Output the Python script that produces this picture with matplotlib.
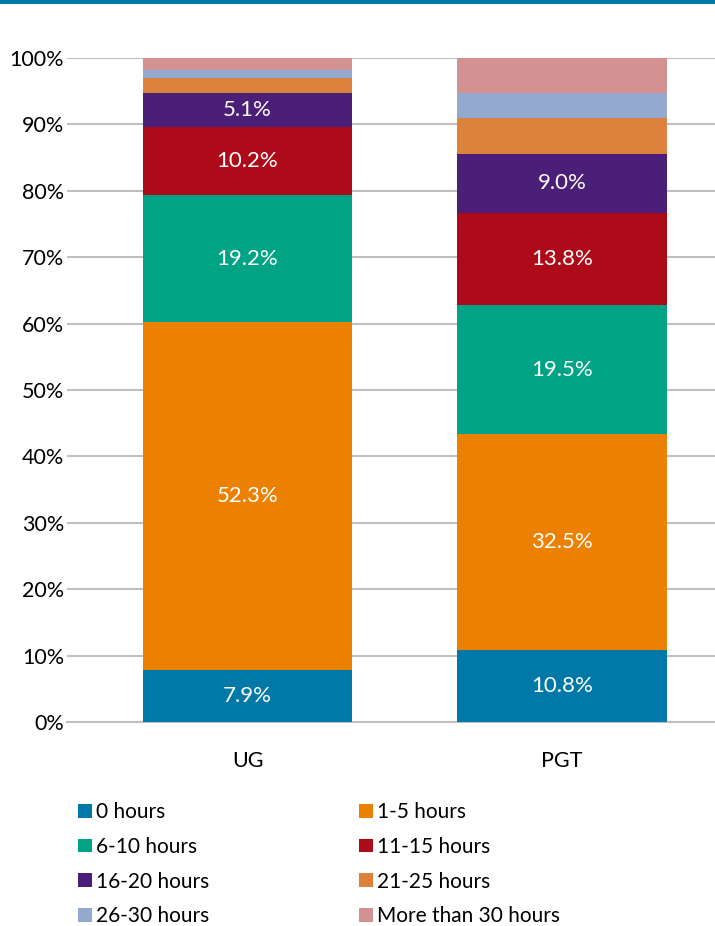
import matplotlib
matplotlib.use("Agg")
import matplotlib.pyplot as plt
from matplotlib.patches import Patch, Rectangle

plt.rcParams['font.family'] = ['Lato', 'DejaVu Sans']

categories = ["UG", "PGT"]
series_names = ["0 hours", "1-5 hours", "6-10 hours", "11-15 hours",
                "16-20 hours", "21-25 hours", "26-30 hours", "More than 30 hours"]
values = {
    "0 hours":            [7.9, 10.8],
    "1-5 hours":          [52.3, 32.5],
    "6-10 hours":         [19.2, 19.5],
    "11-15 hours":        [10.2, 13.8],
    "16-20 hours":        [5.1, 9.0],
    "21-25 hours":        [2.3, 5.4],
    "26-30 hours":        [1.2, 3.7],
    "More than 30 hours": [1.8, 5.3],
}
labeled = ["0 hours", "1-5 hours", "6-10 hours", "11-15 hours", "16-20 hours"]
colors = ["#0079A8", "#EC8000", "#00A383", "#AE0B1A", "#4B1E77",
          "#DC823D", "#94A9D0", "#D49191"]
yticks = [0, 10, 20, 30, 40, 50, 60, 70, 80, 90, 100]

W, H = 715, 926
fig = plt.figure(figsize=(W / 100, H / 100), dpi=100)
ax = fig.add_axes([67 / W, (926 - 722) / H, (715 - 67) / W, (722 - 58) / H])

x = list(range(len(categories)))
bottom = [0.0] * len(categories)
handles = []
for name, col in zip(series_names, colors):
    vals = values[name]
    ax.bar(x, vals, bottom=bottom, width=0.665, color=col, zorder=3, linewidth=0)
    if name in labeled:
        for xi, v, b in zip(x, vals, bottom):
            ax.text(xi, b + v / 2, f"{v:.1f}%", ha="center", va="center",
                    color="white", fontsize=16, zorder=4)
    bottom = [b + v for b, v in zip(bottom, vals)]
    handles.append(Patch(facecolor=col, edgecolor="none", label=name))

ax.set_xlim(-0.574, 1.4865)
ax.set_ylim(0, 100)
ax.set_yticks(yticks)
ax.set_yticklabels([f"{t}%" for t in yticks], fontsize=15.5)
ax.set_xticks(x)
ax.set_xticklabels(categories, fontsize=15.5)
ax.tick_params(axis="y", length=0, pad=2)
ax.tick_params(axis="x", length=0, pad=21)
ax.grid(axis="y", color="#BFBFBF", linewidth=1.5, zorder=0)
for s in ["top", "right", "left"]:
    ax.spines[s].set_visible(False)
ax.spines["bottom"].set_color("#BFBFBF")
ax.spines["bottom"].set_linewidth(1.5)

order = [0, 2, 4, 6, 1, 3, 5, 7]
fig.legend([handles[i] for i in order], [series_names[i] for i in order],
           ncol=2, loc="upper left", bbox_to_anchor=(78 / W, 1 - 802 / H),
           frameon=False, fontsize=15, handlelength=0.65, handleheight=0.65,
           handletextpad=0.2, columnspacing=7.2, labelspacing=0.71,
           borderaxespad=0, borderpad=0)

# top band
fig.patches.append(Rectangle((0, 1 - 4 / H), 1, 4 / H, transform=fig.transFigure,
                             facecolor="#0079A8", edgecolor="none"))

fig.savefig("out.png", dpi=100)
